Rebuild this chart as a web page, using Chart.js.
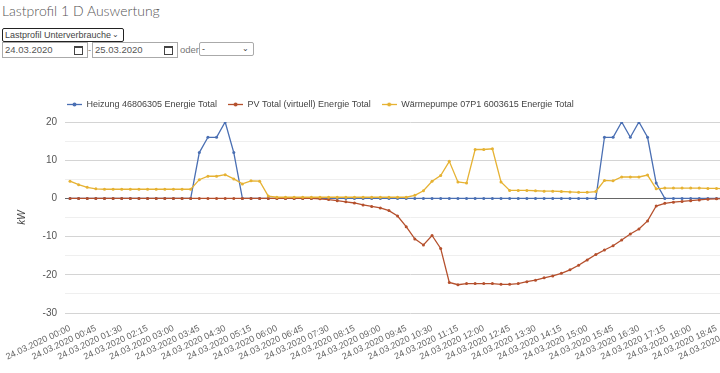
<!DOCTYPE html>
<html>
<head>
<meta charset="utf-8">
<script src="https://cdn.jsdelivr.net/npm/chart.js@4/dist/chart.umd.min.js"></script>
<style>
    html, body { margin: 0; padding: 0; background: #fff; overflow: hidden; }
    body { width: 720px; height: 373px; position: relative; font-family: "Liberation Sans", Arial, sans-serif; }
    h1 { position: absolute; left: 2px; top: 2px; margin: 0; font-family: Lato, "Open Sans", sans-serif; font-weight: 300; font-size: 14px; color: #555; }
    .sel { position: absolute; height: 12px; border: 1px solid #222; border-radius: 2px; font-size: 9px; line-height: 12px; color: #444; padding-left: 2px; box-sizing: content-box; }
    .sel span.arrow { position: absolute; right: 4px; top: 0; font-size: 8px; }
    .date { position: absolute; top: 42px; height: 14px; border: 1px solid #aaa; font-size: 9.5px; line-height: 14px; color: #555; padding-left: 2px; }
    .cal { position: absolute; right: 4px; top: 3px; width: 7px; height: 6px; border: 1px solid #444; border-top-width: 2px; }
    .txt { position: absolute; top: 44px; font-size: 9.5px; color: #777; }
    #wrap { position: absolute; left: 0; top: 87px; width: 755px; height: 300px; }
</style>
</head>
<body>
<h1>Lastprofil 1 D Auswertung</h1>
<div class="sel" style="left:2px; top:28px; width:118px;">Lastprofil Unterverbrauche<span class="arrow">&#8964;</span></div>
<div class="date" style="left:2px; width:82px;">24.03.2020<div class="cal"></div></div>
<div class="txt" style="left:88px;">-</div>
<div class="date" style="left:92px; width:82px;">25.03.2020<div class="cal"></div></div>
<div class="txt" style="left:180px;">oder</div>
<div class="sel" style="left:199px; top:42px; width:51px; border-color:#aaa;">-<span class="arrow">&#8964;</span></div>
<div id="wrap"><canvas id="chart" width="755" height="300"></canvas></div>
<script>
// 15 minute steps, 24.03.2020 00:00 - 19:45
var zeiten = [];
for (var i = 0; i < 80; i++) {
    var h = Math.floor(i / 4), m = (i % 4) * 15;
    zeiten.push('24.03.2020 ' + (h < 10 ? '0' : '') + h + ':' + (m < 10 ? '0' : '') + m);
}

var heizung = [
    0, 0, 0, 0, 0, 0, 0, 0, 0, 0, 0, 0, 0, 0, 0, 12, 16, 16, 20, 12,
    0, 0, 0, 0, 0, 0, 0, 0, 0, 0, 0, 0, 0, 0, 0, 0, 0, 0, 0, 0,
    0, 0, 0, 0, 0, 0, 0, 0, 0, 0, 0, 0, 0, 0, 0, 0, 0, 0, 0, 0,
    0, 0, 16, 16, 20, 16, 20, 16, 4, 0, 0, 0, 0, 0, 0, 0, 0, 0, 0, 0
];
var pv = [
    0, 0, 0, 0, 0, 0, 0, 0, 0, 0, 0, 0, 0, 0, 0, 0, 0, 0, 0, 0,
    0, 0, 0, 0, 0, 0, 0, 0, 0, -0.1, -0.3, -0.6, -0.9, -1.2, -1.7, -2.1, -2.5, -3.2, -4.6, -7.4,
    -10.6, -12.2, -9.7, -13.1, -22, -22.6, -22.3, -22.3, -22.3, -22.3, -22.5, -22.5, -22.3, -21.8, -21.4, -20.8, -20.3, -19.6, -18.7, -17.5,
    -16.1, -14.7, -13.5, -12.4, -10.9, -9.3, -8, -5.9, -2, -1.3, -1, -0.8, -0.6, -0.4, -0.2, -0.1, 0, 0, 0, 0
];
var waermepumpe = [
    4.5, 3.6, 2.9, 2.5, 2.4, 2.4, 2.4, 2.4, 2.4, 2.4, 2.4, 2.4, 2.4, 2.4, 2.4, 4.9, 5.8, 5.8, 6.2, 5.1,
    3.8, 4.6, 4.5, 0.6, 0.3, 0.3, 0.3, 0.3, 0.3, 0.3, 0.3, 0.3, 0.3, 0.3, 0.3, 0.3, 0.3, 0.3, 0.3, 0.3,
    0.8, 2.0, 4.5, 6, 9.7, 4.3, 4.0, 12.8, 12.8, 13, 4.3, 2.1, 2.1, 2.1, 2.0, 1.9, 1.9, 1.8, 1.7, 1.6,
    1.6, 1.8, 4.7, 4.6, 5.6, 5.6, 5.6, 6.1, 2.5, 2.7, 2.7, 2.7, 2.7, 2.7, 2.6, 2.6, 2.5, 2.5, 2.5, 2.5
];
var namen = ['Heizung 46806305 Energie Total', 'PV Total (virtuell) Energie Total', 'Wärmepumpe 07P1 6003615 Energie Total'];
var farben = ['#4a6fb3', '#b5502d', '#e6b233'];

// legend marker: line with a dot
function marker(col) {
    var c = document.createElement('canvas');
    c.width = 15; c.height = 7;
    var ctx = c.getContext('2d');
    ctx.strokeStyle = col; ctx.fillStyle = col; ctx.lineWidth = 1.3;
    ctx.beginPath(); ctx.moveTo(0, 3.5); ctx.lineTo(15, 3.5); ctx.stroke();
    ctx.beginPath(); ctx.arc(7.5, 3.5, 2, 0, Math.PI * 2); ctx.fill();
    return c;
}
var marker_list = farben.map(marker);

function serie(idx, data, order) {
    return {
        label: namen[idx],
        data: data,
        borderColor: farben[idx],
        backgroundColor: farben[idx],
        pointBackgroundColor: farben[idx],
        pointBorderWidth: 0,
        pointRadius: 1.5,
        borderWidth: 1.3,
        tension: 0,
        fill: false,
        order: order
    };
}

// legend a bit more to the left and with some more room below it
var legendTweak = {
    id: 'legendTweak',
    afterInit: function(chart) {
        var lg = chart.legend;
        var fit = lg.fit;
        lg.fit = function() {
            fit.call(this);
            this.height += 3;
        };
    },
    afterLayout: function(chart) {
        chart.legend.left -= 14;
        chart.legend.right -= 14;
    }
};

new Chart(document.getElementById('chart'), {
    type: 'line',
    data: {
        labels: zeiten,
        datasets: [serie(0, heizung, 3), serie(1, pv, 2), serie(2, waermepumpe, 1)]
    },
    plugins: [legendTweak],
    options: {
        responsive: false,
        animation: false,
        maintainAspectRatio: false,
        layout: { padding: { top: 2, right: 0, left: 0, bottom: 0 } },
        plugins: {
            legend: {
                position: 'top',
                align: 'start',
                fullSize: false,
                labels: {
                    usePointStyle: true,
                    pointStyleWidth: 15,
                    padding: 11,
                    color: '#444',
                    font: { family: '"Liberation Sans", Arial', size: 9 },
                    generateLabels: function(chart) {
                        var items = Chart.defaults.plugins.legend.labels.generateLabels(chart);
                        items.forEach(function(it) { it.pointStyle = marker_list[it.datasetIndex]; });
                        return items;
                    },
                    sort: function(a, b) { return a.datasetIndex - b.datasetIndex; }
                }
            },
            tooltip: { enabled: false }
        },
        scales: {
            x: {
                grid: { display: false },
                border: { display: false },
                afterFit: function(scale) { scale.height = 74; },
                ticks: {
                    autoSkip: false,
                    minRotation: 25,
                    maxRotation: 25,
                    padding: 2,
                    color: '#666',
                    font: { family: '"Liberation Sans", Arial', size: 9 },
                    callback: function(v, i) { return i % 3 === 0 ? zeiten[i] : null; }
                }
            },
            y: {
                min: -30,
                max: 20,
                afterFit: function(scale) { scale.width = 70; },
                border: { display: false },
                grid: {
                    tickLength: 5,
                    color: function(ctx) {
                        var v = ctx.tick.value;
                        if (v === 0) return '#666';
                        return v % 10 === 0 ? '#d4d4d4' : '#efefef';
                    }
                },
                title: {
                    display: true,
                    text: 'kW',
                    color: '#444',
                    padding: { top: 16, bottom: 0 },
                    font: { family: '"Liberation Sans", Arial', size: 10, style: 'italic' }
                },
                ticks: {
                    stepSize: 5,
                    padding: 8,
                    color: '#555',
                    font: { family: '"Liberation Sans", Arial', size: 10 },
                    callback: function(v) { return v % 10 === 0 ? v : ''; }
                }
            }
        }
    }
});
</script>
</body>
</html>
